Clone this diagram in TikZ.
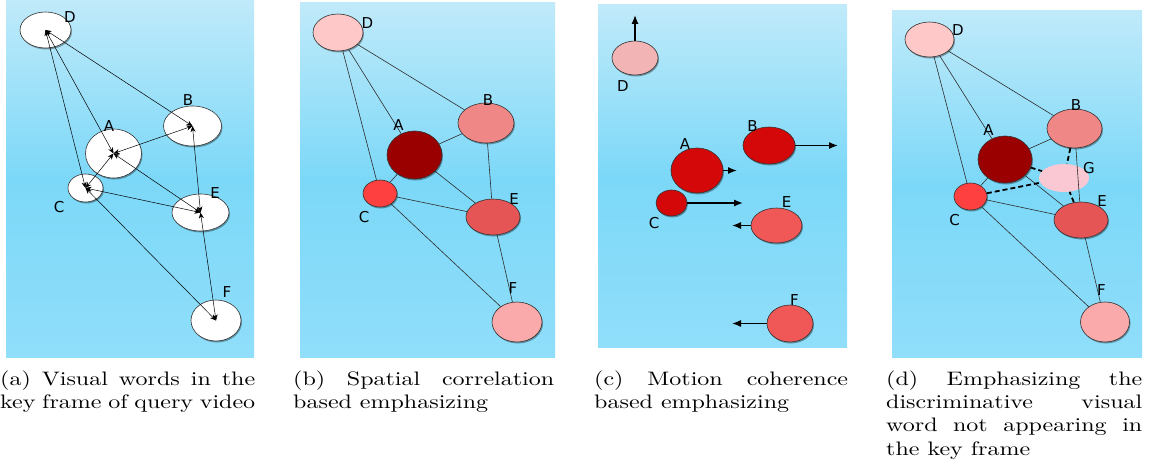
\documentclass[tikz,border=0pt]{standalone}
\usepackage{fontspec}
\newfontfamily\labfont{DejaVu Sans}
\usetikzlibrary{shapes.geometric,shadows,arrows.meta}
\definecolor{bgtop}{RGB}{192,234,250}
\definecolor{bgmid}{RGB}{124,216,248}
\definecolor{bgbot}{RGB}{144,222,250}
\definecolor{outl}{RGB}{50,50,50}
\definecolor{linec}{RGB}{45,45,45}
\definecolor{pD}{RGB}{255,200,200}
\definecolor{pB}{RGB}{240,135,135}
\definecolor{pA}{RGB}{155,0,0}
\definecolor{pC}{RGB}{255,64,64}
\definecolor{pE}{RGB}{230,85,85}
\definecolor{pF}{RGB}{250,170,170}
\definecolor{pG}{RGB}{250,200,210}
\definecolor{mD}{RGB}{242,180,180}
\definecolor{mR}{RGB}{212,8,8}
\definecolor{mL}{RGB}{240,88,88}
\newcommand\captbox[2]{\scalebox{2.4}[1.95]{\parbox[t]{#1}{\hyphenpenalty=10000 \exhyphenpenalty=10000 \tolerance=10000 #2}}}
\begin{document}
\begin{tikzpicture}[x=1pt,y=-1pt,
  bgpanel/.style={top color=bgtop, bottom color=bgbot, middle color=bgmid},
  word/.style={ellipse, draw=outl, line width=0.6pt, inner sep=0pt,
    drop shadow={shadow xshift=1pt, shadow yshift=-1.5pt, opacity=0.35, fill=black}},
  lab/.style={font=\labfont\fontsize{15}{17}\selectfont, inner sep=0pt, text=black},
  link/.style={draw=linec, line width=0.6pt},
  twoway/.style={draw=black, line width=0.5pt, {Stealth[length=6pt,width=5pt]}-{Stealth[length=6pt,width=5pt]}},
  motion/.style={draw=black, line width=1.3pt, -{Latex[length=9pt,width=7pt]}},
  dlink/.style={draw=black, line width=1.8pt, dash pattern=on 5pt off 3pt},
  captxt/.style={anchor=base west, inner sep=0pt, font=\fontsize{10}{12}\selectfont}
]
\useasboundingbox (0,0) rectangle (1156,468);
\fill[white] (0,0) rectangle (1156,468);

% backgrounds
\shade[bgpanel] (6,0) rectangle (254,357);
\shade[bgpanel] (300,3) rectangle (555,357);
\shade[bgpanel] (598,5) rectangle (847,347);
\shade[bgpanel] (892,11) rectangle (1142,357);

% ---------- panel (a)
\node[word, fill=white, minimum width=51pt, minimum height=36pt] (aD) at (45.5,30) {};
\node[word, fill=white, minimum width=58pt, minimum height=40pt] (aB) at (192.5,126) {};
\node[word, fill=white, minimum width=56pt, minimum height=49pt] (aA) at (113.5,153.5) {};
\node[word, fill=white, minimum width=35pt, minimum height=28pt] (aC) at (85.5,188) {};
\node[word, fill=white, minimum width=57pt, minimum height=37pt] (aE) at (200.5,212.5) {};
\node[word, fill=white, minimum width=50pt, minimum height=41pt] (aF) at (216,320.5) {};
\draw[twoway] (aD.center) -- (aB.center);
\draw[twoway] (aD.center) -- (aA.center);
\draw[twoway] (aD.center) -- (aC.center);
\draw[twoway] (aA.center) -- (aB.center);
\draw[twoway] (aA.center) -- (aC.center);
\draw[twoway] (aA.center) -- (aE.center);
\draw[twoway] (aC.center) -- (aE.center);
\draw[twoway] (aC.center) -- (aF.center);
\draw[twoway] (aB.center) -- (aE.center);
\draw[twoway] (aE.center) -- (aF.center);
\node[lab] (aDl) at (70,17.5) {D};
\node[lab] (aBl) at (188,100) {B};
\node[lab] (aAl) at (109,126) {A};
\node[lab] (aCl) at (59,207) {C};
\node[lab] (aEl) at (215,193) {E};
\node[lab] (aFl) at (227,292) {F};

% ---------- panel (b)
\node[word, fill=pD, minimum width=50pt, minimum height=37pt] (bD) at (338,32.5) {};
\node[word, fill=pB, minimum width=56pt, minimum height=40pt] (bB) at (486,123) {};
\node[word, fill=pA, minimum width=55pt, minimum height=48pt] (bA) at (414.5,155) {};
\node[word, fill=pC, minimum width=34pt, minimum height=27pt] (bC) at (380,193.5) {};
\node[word, fill=pE, minimum width=54pt, minimum height=36pt] (bE) at (493,217) {};
\node[word, fill=pF, minimum width=50pt, minimum height=40pt] (bF) at (517,322) {};
\draw[link] (bD) -- (bB);
\draw[link] (bD) -- (bA);
\draw[link] (bD) -- (bC);
\draw[link] (bA) -- (bB);
\draw[link] (bA) -- (bC);
\draw[link] (bA) -- (bE);
\draw[link] (bC) -- (bE);
\draw[link] (bC) -- (bF);
\draw[link] (bB) -- (bE);
\draw[link] (bE) -- (bF);
\node[lab] (bDl) at (367.5,23) {D};
\node[lab] (bBl) at (488,100.5) {B};
\node[lab] (bAl) at (398.5,125) {A};
\node[lab] (bCl) at (364,217) {C};
\node[lab] (bEl) at (514,199.5) {E};
\node[lab] (bFl) at (513,288) {F};

% ---------- panel (c)
\node[word, fill=mD, minimum width=46pt, minimum height=34pt] (cD) at (635,58) {};
\node[word, fill=mR, minimum width=52pt, minimum height=37pt] (cB) at (769,145.5) {};
\node[word, fill=mR, minimum width=52pt, minimum height=45pt] (cA) at (697,170.5) {};
\node[word, fill=mR, minimum width=31pt, minimum height=26pt] (cC) at (671.5,203) {};
\node[word, fill=mL, minimum width=51pt, minimum height=35pt] (cE) at (776.5,225.5) {};
\node[word, fill=mL, minimum width=46pt, minimum height=37pt] (cF) at (790,323.5) {};
\coordinate (cDm) at (635,15);
\coordinate (cBm) at (838,145.5);
\coordinate (cAm) at (737,170.5);
\coordinate (cCm) at (743,203);
\coordinate (cEm) at (732,225.5);
\coordinate (cFm) at (732,323.5);
\draw[motion] (cD.north) -- (cDm);
\draw[motion] (cB.east) -- (cBm);
\draw[motion] (cA.east) -- (cAm);
\draw[motion] (cC.east) -- (cCm);
\draw[motion] (cE.west) -- (cEm);
\draw[motion] (cF.west) -- (cFm);
\node[lab] (cDl) at (623,86) {D};
\node[lab] (cBl) at (752.5,126.5) {B};
\node[lab] (cAl) at (685,144.5) {A};
\node[lab] (cCl) at (654,223) {C};
\node[lab] (cEl) at (786.5,202) {E};
\node[lab] (cFl) at (794.5,300) {F};

% ---------- panel (d)
\node[word, fill=pD, minimum width=49pt, minimum height=35pt] (dD) at (929.5,39.5) {};
\node[word, fill=pB, minimum width=55pt, minimum height=39pt] (dB) at (1074.5,128.5) {};
\node[word, fill=pA, minimum width=54pt, minimum height=47pt] (dA) at (1005,159.5) {};
\node[word, fill=pC, minimum width=33pt, minimum height=27pt] (dC) at (970.5,196.5) {};
\node[word, fill=pE, minimum width=54pt, minimum height=36pt] (dE) at (1081,220) {};
\node[word, fill=pF, minimum width=49pt, minimum height=40pt] (dF) at (1105,322) {};
\node[ellipse, fill=pG, draw=none, inner sep=0pt, minimum width=50pt, minimum height=28pt] (dG) at (1064,178) {};
\draw[link] (dD) -- (dB);
\draw[link] (dD) -- (dA);
\draw[link] (dD) -- (dC);
\draw[link] (dA) -- (dB);
\draw[link] (dA) -- (dC);
\draw[link] (dA) -- (dE);
\draw[link] (dC) -- (dE);
\draw[link] (dC) -- (dF);
\draw[link] (dB) -- (dE);
\draw[link] (dE) -- (dF);
\draw[dlink] (dA) -- (dG);
\draw[dlink] (dC) -- (dG);
\draw[dlink] (dB) -- (dG);
\draw[dlink] (dE) -- (dG);
\node[lab] (dDl) at (958,30.5) {D};
\node[lab] (dBl) at (1076,105.5) {B};
\node[lab] (dAl) at (988.5,130.5) {A};
\node[lab] (dGl) at (1089,168.5) {G};
\node[lab] (dCl) at (954.5,220.5) {C};
\node[lab] (dEl) at (1102,201.5) {E};
\node[lab] (dFl) at (1101.5,290) {F};

% ---------- captions
\node[captxt] (capa) at (0,385) {\captbox{106.25pt}{(a) Visual words in the key frame of query video}};
\node[captxt] (capb) at (293,385) {\captbox{108.75pt}{(b) Spatial correlation based emphasizing}};
\node[captxt] (capc) at (594,385) {\captbox{105.8pt}{(c) Motion coherence based emphasizing}};
\node[captxt] (capd) at (886,385) {\captbox{106.7pt}{(d) Emphasizing the\linebreak discriminative visual\linebreak word not appearing in\linebreak the key frame}};
\end{tikzpicture}
\end{document}
